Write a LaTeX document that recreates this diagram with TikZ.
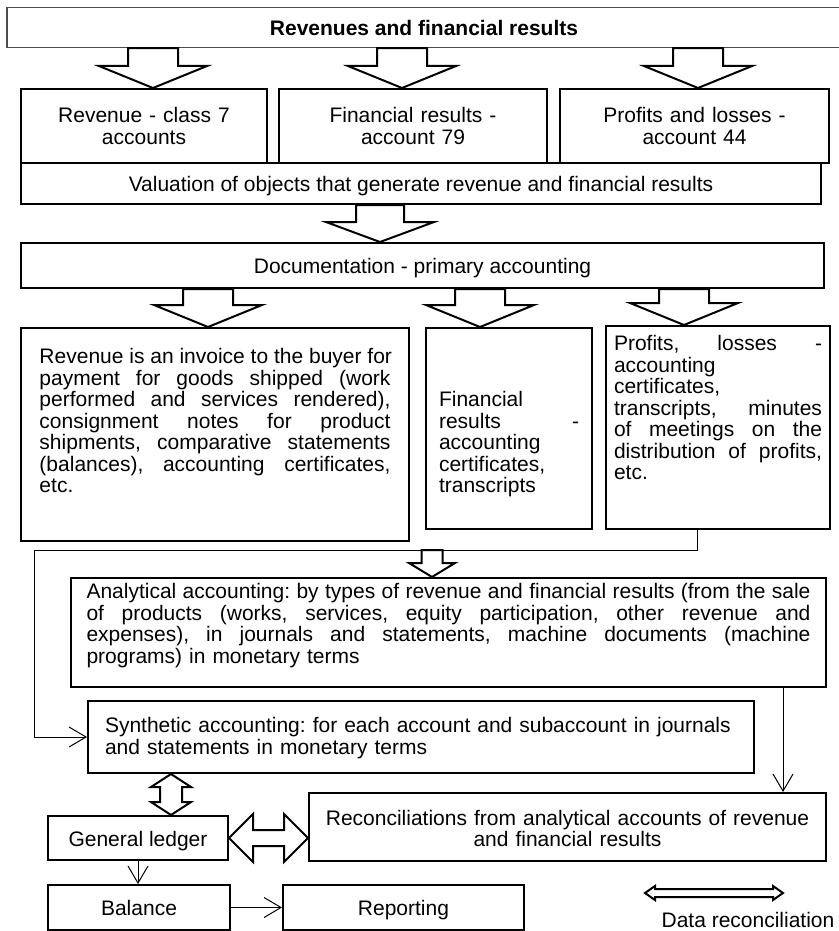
\documentclass[tikz,border=0pt]{standalone}
\usepackage{fontspec}
\setmainfont{Liberation Sans}
\usetikzlibrary{calc,arrows.meta}
\frenchspacing

% stretch one line of justified text to a given width
\newcommand{\fillline}[2]{\leavevmode\hbox to #1{\spaceskip=0.278em plus 1fil\relax
  \xspaceskip=\spaceskip#2}}
% hollow block arrow: x, from, to, shaft half, head half, head length
\newcommand{\fatdown}[6]{%
  \draw[hollow] (#1,0 |- #3) -- ++(-#5,-#6) -- ++(#5-#4,0)
    -- (#1-#4,0 |- #2) -- (#1+#4,0 |- #2)
    -- ($(#1,0 |- #3)+(#4,-#6)$) -- ++(#5-#4,0) -- cycle;}
% hollow double arrow, vertical: top, bottom, shaft half, head half, head length
\newcommand{\fatvv}[5]{%
  \draw[hollow] (#1) -- ++(-#4,#5) -- ++(#4-#3,0) -- ($(#2)+(-#3,-#5)$)
    -- ++(#3-#4,0) -- (#2) -- ++(#4,-#5) -- ++(#3-#4,0)
    -- ($(#1)+(#3,#5)$) -- ++(#4-#3,0) -- cycle;}
% hollow double arrow, horizontal: left, right, shaft half, head half, head length
\newcommand{\fathh}[5]{%
  \draw[hollow] (#1) -- ++(#5,-#4) -- ++(0,#4-#3) -- ($(#2)+(-#5,-#3)$)
    -- ++(0,#3-#4) -- (#2) -- ++(-#5,#4) -- ++(0,#3-#4)
    -- ($(#1)+(#5,#3)$) -- ++(0,#4-#3) -- cycle;}

\begin{document}
\begin{tikzpicture}[x=0.5pt, y=-0.5pt,
  acbox/.style={draw, line width=1pt, anchor=north, inner ysep=0pt,
    font=\fontsize{10.5}{10.75}\selectfont},
  hollow/.style={draw, line width=1pt, fill=white, line join=miter},
  link/.style={line width=0.5pt, -{Straight Barb[length=8.5pt,width=10pt]}}]

  \useasboundingbox (0,0) rectangle (839,931);

  % Heading
  \node[acbox, draw=black!70, line width=0.6pt, minimum width=417pt,
    text height=13.75pt, text depth=6.25pt] (title) at (424,7)
    {\textbf{Revenues and financial results}};

  % Accounts
  \node[acbox, text width=123pt, inner xsep=0pt, align=center,
    text height=17pt, text depth=20pt] (revenue) at (144,88)
    {Revenue - class 7\\accounts};
  \node[acbox, text width=134pt, inner xsep=0pt, align=center,
    text height=17pt, text depth=20pt] (finres) at (413,88)
    {Financial results -\\account 79};
  \node[acbox, text width=134.5pt, inner xsep=0pt, align=center,
    text height=17pt, text depth=20pt] (profit) at (694.5,88)
    {Profits and losses -\\account 44};

  % Valuation
  \node[acbox, minimum width=400pt, text height=14.25pt, text depth=6.25pt]
    (valuation) at (421,162)
    {Valuation of objects that generate revenue and financial results};

  % Documentation
  \node[acbox, minimum width=401.5pt, text height=15.25pt, text depth=7.25pt]
    (docs) at (422.5,242) {Documentation - primary accounting};

  % Primary documents
  \node[acbox, text width=175.5pt, inner xsep=9.25pt, align=left,
    text height=17.75pt, text depth=88.75pt] (revdocs) at (215,327)
    {\fillline{175.5pt}{Revenue is an invoice to the buyer for}\\
     \fillline{175.5pt}{payment for goods shipped (work}\\
     \fillline{175.5pt}{performed and services rendered),}\\
     \fillline{175.5pt}{consignment notes for product}\\
     \fillline{175.5pt}{shipments, comparative statements}\\
     \fillline{175.5pt}{(balances), accounting certificates,}\\
     etc.};
  \node[acbox, text width=70pt, inner xsep=6.5pt, align=left,
    text height=39.25pt, text depth=61.25pt] (resdocs) at (509,327)
    {Financial\\
     \fillline{70pt}{results -}\\
     accounting\\
     certificates,\\
     transcripts};
  \node[acbox, text width=104pt, inner xsep=4pt, align=left,
    text height=12.25pt, text depth=89.25pt] (profdocs) at (718,325)
    {\fillline{104pt}{Profits, losses -}\\
     accounting\\
     certificates,\\
     \fillline{104pt}{transcripts, minutes}\\
     \fillline{104pt}{of meetings on the}\\
     \fillline{104pt}{distribution of profits,}\\
     etc.};

  % Analytical accounting
  \node[acbox, text width=362pt, inner xsep=7.75pt, align=left,
    text height=10.25pt, text depth=44.25pt] (analyt) at (448.5,577)
    {\fillline{362pt}{Analytical accounting: by types of revenue and financial results (from the sale}\\
     \fillline{362pt}{of products (works, services, equity participation, other revenue and}\\
     \fillline{362pt}{expenses), in journals and statements, machine documents (machine}\\
     programs) in monetary terms};

  % Synthetic accounting
  \node[acbox, text width=316pt, inner xsep=8.5pt, align=left,
    text height=15.75pt, text depth=20.25pt] (synth) at (421,700)
    {Synthetic accounting: for each account and subaccount in journals\\
     and statements in monetary terms};

  % Ledger and reconciliations
  \node[acbox, minimum width=90pt, text height=15.25pt, text depth=6.75pt]
    (ledger) at (138,815) {General ledger};
  \node[acbox, text width=258.5pt, inner xsep=0pt, align=center,
    text height=16pt, text depth=18pt] (recon) at (567.5,792)
    {Reconciliations from analytical accounts of revenue\\
     and financial results};

  % Balance and reporting
  \node[acbox, minimum width=91pt, text height=15.25pt, text depth=7.25pt]
    (balance) at (139,884) {Balance};
  \node[acbox, minimum width=120.5pt, text height=15.25pt, text depth=7.25pt]
    (report) at (403.5,884) {Reporting};

  % Block arrows
  \fatdown{153}{title.south}{revenue.north}{25}{54}{22}
  \fatdown{402}{title.south}{finres.north}{25}{54}{22}
  \fatdown{698}{title.south}{profit.north}{25}{54}{22}
  \fatdown{380}{valuation.south}{docs.north}{24}{54}{20}
  \fatdown{208}{docs.south}{revdocs.north}{25}{54}{22}
  \fatdown{480}{docs.south}{resdocs.north}{25}{54}{22}
  \fatdown{684}{docs.south}{profdocs.north}{25}{54}{22}

  % Profits line to synthetic accounting
  \coordinate (elbow) at (34,550);
  \draw[link] (697,0 |- profdocs.south) |- (elbow) |- (synth.west);
  \coordinate (drop) at (432,550);
  \fatdown{432}{drop}{analyt.north}{10.5}{23}{14}

  % Analytical to reconciliations
  \draw[link] (783,0 |- analyt.south) -- (783,0 |- recon.north);

  % Data reconciliation arrows
  \coordinate (vtop) at (171,0 |- synth.south);
  \coordinate (vbot) at (171,0 |- ledger.north);
  \fatvv{vtop}{vbot}{11}{20}{13}
  \coordinate (hl) at (ledger.east);
  \coordinate (hr) at (ledger.east -| recon.west);
  \fathh{hl}{hr}{8}{24}{24}

  % Ledger to balance to reporting
  \draw[link] (ledger.south) -- (ledger.south |- balance.north);
  \draw[link] (balance.east) -- (report.west);

  % Legend
  \coordinate (legl) at (645,893);
  \coordinate (legr) at (783,893);
  \fathh{legl}{legr}{4}{7}{10}
  \node[font=\fontsize{10.5}{10.75}\selectfont, inner sep=0pt,
    text height=7.5pt, text depth=0pt] (legtext) at (748,920)
    {Data reconciliation};
\end{tikzpicture}
\end{document}
